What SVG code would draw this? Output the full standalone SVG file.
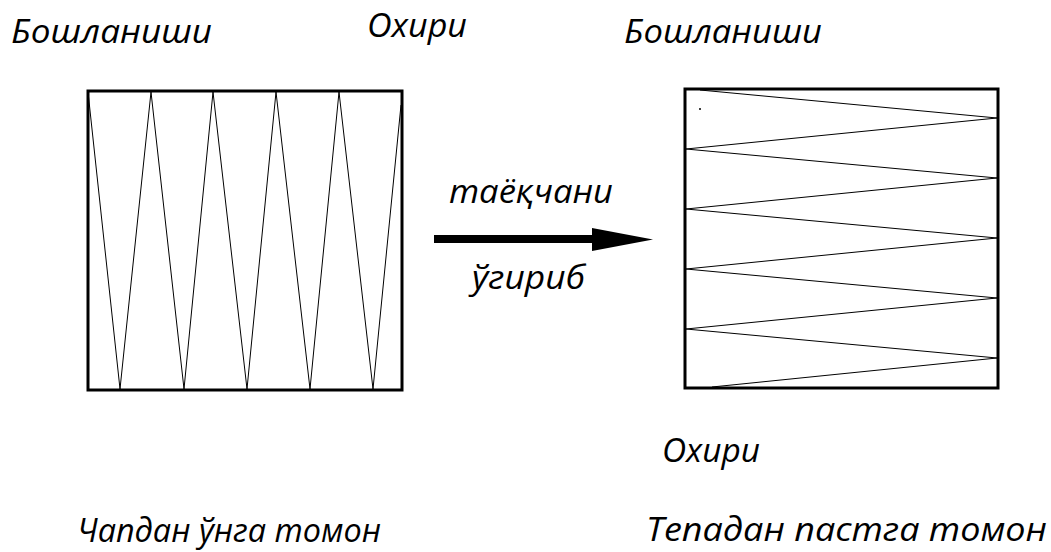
<svg xmlns="http://www.w3.org/2000/svg" width="1051" height="552" viewBox="0 0 1051 552">
<style>
.t{font-family:"Open Sans","Noto Sans","DejaVu Sans",sans-serif;font-style:italic;font-weight:500;font-size:33px;fill:#000}
.box{fill:#fff;stroke:#000;stroke-width:3}
.zz{fill:none;stroke:#000;stroke-width:1;stroke-linejoin:miter}
</style>
<rect width="1051" height="552" fill="#fff"/>
<g id="labels-top">
<text class="t" x="11" y="43" textLength="201" lengthAdjust="spacingAndGlyphs">Бошланиши</text>
<text class="t" x="367" y="37" textLength="100" lengthAdjust="spacingAndGlyphs">Охири</text>
<text class="t" x="624" y="43" textLength="198" lengthAdjust="spacingAndGlyphs">Бошланиши</text>
</g>
<g id="left-box">
<rect class="box" x="88" y="91" width="314" height="299"/>
<polyline class="zz" points="88,92 120,389 151,92 184,389 213,92 247,389 276,92 310,389 339,92 373,389 401,105"/>
</g>
<g id="right-box">
<rect class="box" x="685" y="89" width="313" height="299"/>
<polyline class="zz" points="700,90 997,118 686,149 997,178 686,209 997,238 686,269 997,298 686,329 997,358 712,387"/>
<circle cx="700" cy="109" r="1" fill="#000"/>
</g>
<g id="connectors">
<rect x="434" y="235" width="161" height="8" fill="#000"/>
<polygon points="592,228 653,239.5 592,251" fill="#000"/>
</g>
<g id="arrow-labels">
<text class="t" x="449" y="203" textLength="164" lengthAdjust="spacingAndGlyphs">таёқчани</text>
<text class="t" x="472" y="289" textLength="113" lengthAdjust="spacingAndGlyphs">ўгириб</text>
</g>
<g id="labels-bottom">
<text class="t" x="662" y="462" textLength="98" lengthAdjust="spacingAndGlyphs">Охири</text>
<text class="t" x="77" y="542" textLength="304" lengthAdjust="spacingAndGlyphs">Чапдан ўнга томон</text>
<text class="t" x="646" y="541" textLength="401" lengthAdjust="spacingAndGlyphs">Тепадан пастга томон</text>
</g>
</svg>
